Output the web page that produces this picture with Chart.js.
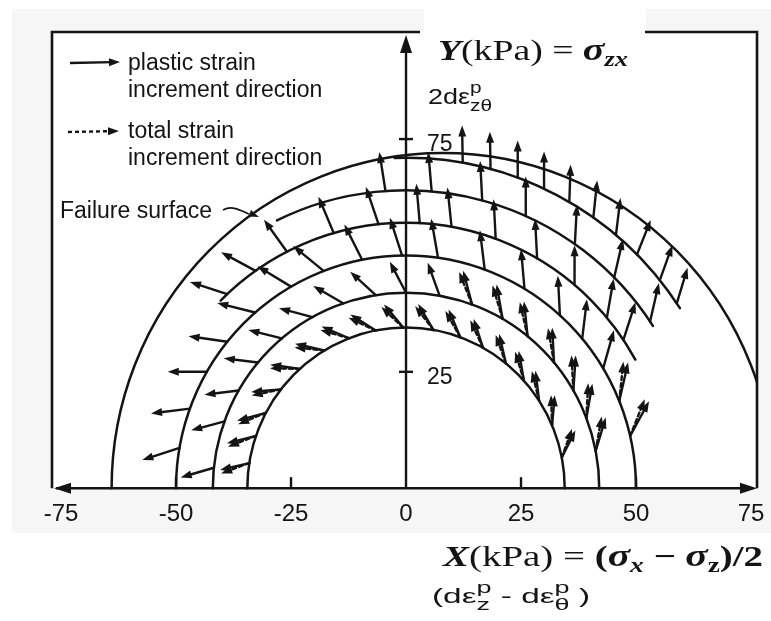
<!DOCTYPE html>
<html>
<head>
<meta charset="utf-8">
<script src="https://cdn.jsdelivr.net/npm/chart.js@4.4.1/dist/chart.umd.min.js"></script>
<style>
  html, body { margin: 0; padding: 0; background: #fff; }
  #wrap { width: 771px; height: 621px; }
</style>
</head>
<body>
<div id="wrap"><canvas id="myChart" width="771" height="621"></canvas></div>
<script>
const xTicks = [-75, -50, -25, 0, 25, 50, 75];
const yTicks = [25, 75];
const xMin = -76.96, xMax = 76.3;
const yMin = 0, yMax = 98;

// loading surfaces centred on the origin: radius, first / last angle (deg)
const surfRadius = [34.5, 42, 50, 57, 64, 71];
const surfFrom = [0, 0, 0, 29, 33, 33];
const surfTo = [180, 180, 180, 135, 116, 92];

// failure surface, centre shifted along X
const failCentre = 8;
const failRadius = 72;

// arrows on each surface: [angle of the point on the surface, arrow direction] in degrees
const s1Arrows = [[171, 193], [161, 194], [152, 195], [142, 185], [132, 172], [121, 167], [111, 157], [101, 148], [91, 130], [80, 121], [70, 113], [61, 108], [51, 103], [42, 100], [33, 97], [23, 85], [11, 63]];
const s2Arrows = [[174, 196], [160, 195], [150, 187], [140, 173], [130, 166], [119, 165], [109, 150], [99, 138], [90, 118], [80, 110], [70, 105], [60, 100], [51, 96], [40, 93], [30, 86], [21, 80], [11, 73]];
const s3Arrows = [[170, 198], [160, 187], [150, 180], [141, 172], [131, 166], [120, 149], [111, 141], [101, 117], [91, 108], [82, 100], [70, 97], [59, 95], [48, 93], [40, 83], [31, 74], [22, 77], [13, 61]];
const s4Arrows = [[133, 162], [125, 152], [117, 126], [106, 113], [96, 109], [87, 95], [80, 96], [70, 93], [60, 93], [50, 90], [40, 80], [34, 72]];
const s5Arrows = [[94, 99], [85, 95], [75, 93], [66, 90], [55, 87], [45, 77], [34, 77]];
const s6Arrows = [[80, 91], [75, 91], [70, 90], [65, 90], [60, 88], [55, 84], [50, 83], [45, 68], [39, 70], [34, 73]];
const surfArrows = [s1Arrows, s2Arrows, s3Arrows, s4Arrows, s5Arrows, s6Arrows];
const arrowLen = [6.5, 7.5, 8.5, 8.5, 8.5, 8];
// total strain arrow drawn too where the point angle is at most this
const totalUpTo = [180, 70, 25, -1, -1, -1];

const INK = "#141414";
const rad = (d) => (d * Math.PI) / 180;

let ctx;
let myChart;

function head(c, x, y, ang, len, half) {
  c.beginPath();
  c.moveTo(x, y);
  c.lineTo(x - len * Math.cos(ang) + half * Math.sin(ang), y - len * Math.sin(ang) - half * Math.cos(ang));
  c.lineTo(x - len * Math.cos(ang) - half * Math.sin(ang), y - len * Math.sin(ang) + half * Math.cos(ang));
  c.closePath();
  c.fill();
}

function arrowPx(c, x0, y0, x1, y1, dashed) {
  const ang = Math.atan2(y1 - y0, x1 - x0);
  const hl = 11;
  c.save();
  c.lineWidth = 2.4;
  if (dashed) c.setLineDash([4, 3]);
  c.beginPath();
  c.moveTo(x0, y0);
  c.lineTo(x1 - hl * 0.7 * Math.cos(ang), y1 - hl * 0.7 * Math.sin(ang));
  c.stroke();
  c.restore();
  head(c, x1, y1, ang, hl, 4);
}

// text made of runs, squeezed to fit between x0 and x1
function drawRuns(c, runs, x0, x1, base) {
  const widthOf = (r) => {
    c.font = r.f;
    if (r.sup !== undefined) {
      return Math.max(c.measureText(r.sup).width, c.measureText(r.sub).width);
    }
    return c.measureText(r.t).width;
  };
  let w = 0;
  runs.forEach((r) => (w += widthOf(r)));
  c.save();
  c.translate(x0, base);
  c.scale((x1 - x0) / w, 1);
  c.textBaseline = "alphabetic";
  c.textAlign = "left";
  let x = 0;
  runs.forEach((r) => {
    c.font = r.f;
    if (r.sup !== undefined) {
      c.fillText(r.sup, x, r.up);
      c.fillText(r.sub, x, r.down);
    } else {
      c.fillText(r.t, x, r.dy || 0);
    }
    x += widthOf(r);
  });
  c.restore();
}

const figurePlugin = {
  id: "figure",
  beforeDraw(chart) {
    const c = chart.ctx;
    const a = chart.chartArea;
    c.save();
    c.fillStyle = "#f6f6f6";
    c.fillRect(12, 9, 759, 524);
    c.fillStyle = "#ffffff";
    c.fillRect(a.left, a.top, a.right - a.left, a.bottom - a.top);
    c.fillRect(424, 9, 222, 30);
    c.restore();
  },
  afterDatasetsDraw(chart) {
    const c = chart.ctx;
    const a = chart.chartArea;
    const xs = chart.scales.x;
    const ys = chart.scales.y;
    const ux = xs.getPixelForValue(1) - xs.getPixelForValue(0);
    const uy = ys.getPixelForValue(0) - ys.getPixelForValue(1);
    const ox = xs.getPixelForValue(0);
    const oy = ys.getPixelForValue(0);

    c.save();
    c.strokeStyle = INK;
    c.fillStyle = INK;
    c.lineCap = "round";

    c.save();
    c.beginPath();
    c.rect(a.left, a.top, a.right - a.left, a.bottom - a.top + 2);
    c.clip();

    // surfaces
    c.lineWidth = 2.5;
    surfRadius.forEach((r, i) => {
      c.beginPath();
      c.ellipse(ox, oy, r * ux, r * uy, 0, -rad(surfTo[i]), -rad(surfFrom[i]));
      c.stroke();
    });
    c.beginPath();
    c.ellipse(xs.getPixelForValue(failCentre), oy, failRadius * ux, failRadius * uy, 0, -Math.PI, 0);
    c.stroke();

    // strain increment arrows
    surfArrows.forEach((list, i) => {
      const r = surfRadius[i];
      const len = arrowLen[i];
      list.forEach(([pos, dir]) => {
        const tx = r * Math.cos(rad(pos));
        const ty = r * Math.sin(rad(pos));
        const x0 = xs.getPixelForValue(tx);
        const y0 = ys.getPixelForValue(ty);
        if (pos <= totalUpTo[i]) {
          const d2 = rad(dir + 7);
          arrowPx(c, x0, y0, xs.getPixelForValue(tx + len * Math.cos(d2)), ys.getPixelForValue(ty + len * Math.sin(d2)), true);
        }
        const d = rad(dir);
        arrowPx(c, x0, y0, xs.getPixelForValue(tx + len * Math.cos(d)), ys.getPixelForValue(ty + len * Math.sin(d)), false);
      });
    });
    c.restore();

    // frame
    c.lineWidth = 2.6;
    c.lineCap = "butt";
    c.beginPath();
    c.moveTo(a.left, oy);
    c.lineTo(a.left, a.top);
    c.lineTo(420, a.top);
    c.moveTo(645, a.top);
    c.lineTo(a.right, a.top);
    c.lineTo(a.right, oy);
    c.stroke();

    // X axis with arrows both ends
    c.lineWidth = 2.4;
    c.beginPath();
    c.moveTo(a.left + 4, oy);
    c.lineTo(a.right - 4, oy);
    c.stroke();
    head(c, a.left + 2, oy, Math.PI, 17, 5.5);
    head(c, a.right, oy, 0, 17, 5.5);
    xTicks.forEach((v) => {
      if (Math.abs(v) === 75 || v === 0) return;
      const x = xs.getPixelForValue(v);
      c.beginPath();
      c.moveTo(x, oy);
      c.lineTo(x, oy - 11);
      c.stroke();
    });

    // Y axis
    c.beginPath();
    c.moveTo(ox, oy);
    c.lineTo(ox, a.top + 12);
    c.stroke();
    head(c, ox, a.top + 3, -Math.PI / 2, 18, 6);
    c.font = "23px 'Liberation Sans', Arial, sans-serif";
    c.textBaseline = "middle";
    c.textAlign = "left";
    yTicks.forEach((v) => {
      const y = ys.getPixelForValue(v);
      c.beginPath();
      c.moveTo(ox - 7, y);
      c.lineTo(ox + 7, y);
      c.stroke();
      c.fillText(String(v), ox + 21, y + 6);
    });
    c.restore();
  },
  afterDraw(chart) {
    const c = chart.ctx;
    c.save();
    c.fillStyle = INK;
    c.strokeStyle = INK;

    // legend
    const sans = "'Liberation Sans', Arial, sans-serif";
    c.font = "23px " + sans;
    c.textBaseline = "alphabetic";
    c.fillText("plastic strain", 128, 70);
    c.fillText("increment direction", 128, 97);
    c.fillText("total strain", 128, 138);
    c.fillText("increment direction", 128, 165);
    arrowPx(c, 70, 63, 120, 62, false);
    arrowPx(c, 68, 132, 119, 131, true);

    c.fillText("Failure surface", 60, 218);
    c.lineWidth = 1.8;
    c.beginPath();
    c.moveTo(223, 210);
    c.bezierCurveTo(232, 205, 240, 210, 249, 214);
    c.stroke();
    head(c, 259, 217, Math.atan2(4, 10), 10, 3.5);

    // axis titles
    const serif = "'Liberation Serif', 'DejaVu Serif', serif";
    drawRuns(c, [
      { t: "Y", f: "bold italic 30px " + serif },
      { t: "(kPa)", f: "30px " + serif },
      { t: " = ", f: "30px " + serif },
      { t: "\u03c3", f: "bold italic 32px " + serif },
      { t: "zx", f: "bold italic 21px " + serif, dy: 6 },
    ], 438, 628, 60);

    drawRuns(c, [
      { t: "X", f: "bold italic 30px " + serif },
      { t: "(kPa)", f: "30px " + serif },
      { t: " = ", f: "30px " + serif },
      { t: "(", f: "bold 30px " + serif },
      { t: "\u03c3", f: "bold italic 32px " + serif },
      { t: "x", f: "bold italic 21px " + serif, dy: 6 },
      { t: " \u2212 ", f: "bold 30px " + serif },
      { t: "\u03c3", f: "bold italic 32px " + serif },
      { t: "z", f: "bold 21px " + serif, dy: 6 },
      { t: ")/2", f: "bold 30px " + serif },
    ], 443, 763, 566);

    drawRuns(c, [
      { t: "2d\u03b5", f: "22px " + sans },
      { sup: "p", sub: "z\u03b8", f: "17px " + sans, up: -11, down: 7 },
    ], 428, 492, 104);

    drawRuns(c, [
      { t: "(d\u03b5", f: "21px " + sans },
      { sup: "p", sub: "z", f: "17px " + sans, up: -10, down: 7 },
      { t: " - d\u03b5", f: "21px " + sans },
      { sup: "p", sub: "\u03b8", f: "17px " + sans, up: -10, down: 7 },
      { t: " )", f: "21px " + sans },
    ], 432, 590, 603);
    c.restore();
  },
};

function initChart() {
  ctx = document.getElementById("myChart").getContext("2d");
  myChart = new Chart(ctx, {
    type: "scatter",
    data: { datasets: [] },
    options: {
      responsive: false,
      animation: false,
      events: [],
      layout: { padding: { left: 52, right: 14, top: 32, bottom: 80 } },
      plugins: { legend: { display: false }, tooltip: { enabled: false } },
      scales: {
        x: {
          type: "linear",
          min: xMin,
          max: xMax,
          grid: { display: false, drawTicks: false },
          border: { display: false },
          afterBuildTicks: (scale) => {
            scale.ticks = xTicks.map((v) => ({ value: v }));
          },
          afterFit: (scale) => {
            scale.paddingLeft = 0;
            scale.paddingRight = 0;
          },
          ticks: {
            autoSkip: false,
            maxRotation: 0,
            padding: 12,
            color: INK,
            font: { family: "'Liberation Sans', Arial, sans-serif", size: 24 },
          },
        },
        y: { type: "linear", min: yMin, max: yMax, display: false },
      },
    },
    plugins: [figurePlugin],
  });
}

initChart();
</script>
</body>
</html>
